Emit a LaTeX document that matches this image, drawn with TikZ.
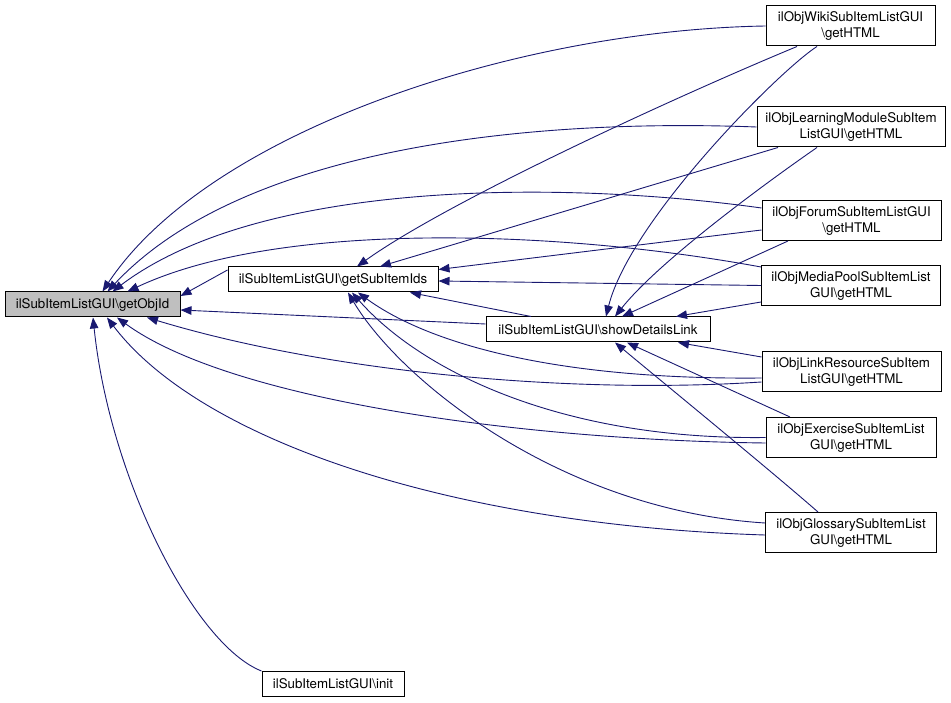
\documentclass[tikz,border=0pt]{standalone}
\usepackage{fontspec}
\setmainfont{TeX Gyre Heros}
\usetikzlibrary{arrows.meta}
\definecolor{edgeblue}{HTML}{191970}
\definecolor{hitgray}{HTML}{BFBFBF}

\begin{document}
\begin{tikzpicture}[x=1pt,y=-1pt,
  box/.style={draw=black,line width=1pt,fill=white,inner sep=0pt,align=center,
    minimum height=25pt,font=\fontsize{13.3}{16}\selectfont},
  twoline/.style={box,minimum height=40pt},
  call/.style={edgeblue,line width=0.9pt,-{Triangle[length=11pt,width=8.5pt]}}]
\useasboundingbox (0,0) rectangle (951,703);

\node [box,fill=hitgray,minimum width=175pt] (objid) at (92.5,304.5) {ilSubItemListGUI\textbackslash getObjId};
\node [box,minimum width=210pt] (subids) at (333,279.5) {ilSubItemListGUI\textbackslash getSubItemIds};
\node [box,minimum width=224pt] (details) at (598,329.5) {ilSubItemListGUI\textbackslash showDetailsLink};
\node [box,minimum width=142pt] (init) at (333,684) {ilSubItemListGUI\textbackslash init};

\node [twoline,minimum width=169pt] (wiki) at (850.5,26) {ilObjWikiSubItemListGUI\\\textbackslash getHTML};
\node [twoline,minimum width=188pt] (lm) at (851,127) {ilObjLearningModuleSubItem\\ListGUI\textbackslash getHTML};
\node [twoline,minimum width=179pt] (forum) at (851.5,220.5) {ilObjForumSubItemListGUI\\\textbackslash getHTML};
\node [twoline,minimum width=179pt] (media) at (851,285.5) {ilObjMediaPoolSubItemList\\GUI\textbackslash getHTML};
\node [twoline,minimum width=179pt] (link) at (851.5,372) {ilObjLinkResourceSubItem\\ListGUI\textbackslash getHTML};
\node [twoline,minimum width=170pt] (exercise) at (851,437.5) {ilObjExerciseSubItemList\\GUI\textbackslash getHTML};
\node [twoline,minimum width=171pt] (glossary) at (851,532.5) {ilObjGlossarySubItemList\\GUI\textbackslash getHTML};

\draw [call] (wiki.west) .. controls (520,30) and (210,130) .. ([xshift=10pt]objid.north);
\draw [call] (lm.west) .. controls (520,118) and (240,150) .. ([xshift=15pt]objid.north);
\draw [call] ([yshift=12.5pt]forum.west) .. controls (560,180) and (260,180) .. ([xshift=20pt]objid.north);
\draw [call] ([yshift=18.5pt]media.west) .. controls (560,230) and (280,220) .. ([xshift=35pt]objid.north);
\draw [call] ([yshift=9.5pt]subids.west) -- ([yshift=8.5pt]objid.east);
\draw [call] ([yshift=5.5pt]details.west) -- ([yshift=-5.5pt]objid.east);
\draw [call] ([yshift=-10pt]link.west) .. controls (560,395) and (320,370) .. ([xshift=54.5pt]objid.south);
\draw [call] ([yshift=-5.5pt]exercise.west) .. controls (520,440) and (230,400) .. ([xshift=24.5pt]objid.south);
\draw [call] ([yshift=-2.5pt]glossary.west) .. controls (450,525) and (200,440) .. ([xshift=14.5pt]objid.south);
\draw [call] (init.north west) .. controls (195,645) and (110,480) .. ([xshift=0.5pt]objid.south);

\draw [call] ([xshift=-53.5pt]wiki.south) .. controls (680,95) and (450,200) .. ([xshift=24pt]subids.north);
\draw [call] ([xshift=-73pt]lm.south) -- ([xshift=47pt]subids.north);
\draw [call] ([yshift=-9.5pt]forum.west) -- ([yshift=10pt]subids.east);
\draw [call] (media.west) -- ([yshift=-1.5pt]subids.east);
\draw [call] ([xshift=-67pt]details.north) -- ([xshift=77pt]subids.south);
\draw [call] ([yshift=-6pt]link.west) .. controls (560,380) and (430,345) .. ([xshift=25pt]subids.south);
\draw [call] (exercise.west) .. controls (560,440) and (420,370) .. ([xshift=19pt]subids.south);
\draw [call] ([yshift=9.5pt]glossary.west) .. controls (560,510) and (400,380) .. ([xshift=15pt]subids.south);

\draw [call] ([xshift=-33.5pt]wiki.south) .. controls (780,70) and (630,220) .. ([xshift=8pt]details.north);
\draw [call] ([xshift=-34pt]lm.south) .. controls (770,180) and (660,260) .. ([xshift=17pt]details.north);
\draw [call] ([xshift=-63.5pt]forum.south) -- ([xshift=24pt]details.north);
\draw [call] ([yshift=-16.5pt]media.west) -- ([xshift=78pt]details.north);
\draw [call] ([yshift=15pt]link.west) -- ([xshift=80pt]details.south);
\draw [call] ([xshift=-61pt]exercise.north) -- ([xshift=29pt]details.south);
\draw [call] ([xshift=-33pt]glossary.north) .. controls (770,470) and (660,380) .. ([xshift=17pt]details.south);
\end{tikzpicture}
\end{document}
